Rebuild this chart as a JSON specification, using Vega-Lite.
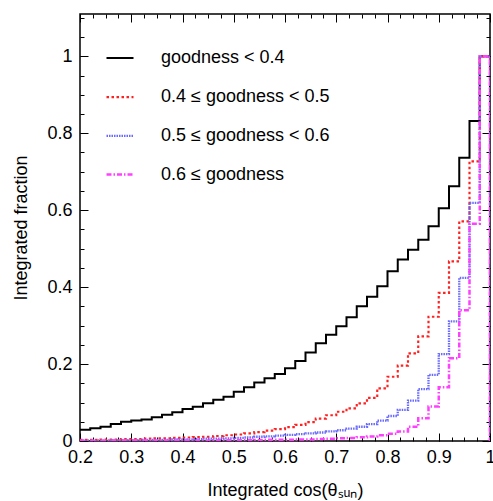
{
  "$schema": "https://vega.github.io/schema/vega-lite/v6.json",
  "width": 410,
  "height": 427,
  "autosize": {"type": "none"},
  "padding": {"left": 80, "top": 14, "right": 3, "bottom": 60},
  "background": "white",
  "config": {
    "font": "Liberation Sans",
    "view": {"stroke": "#000", "strokeWidth": 1.5},
    "axis": {"grid": false, "domain": false, "tickColor": "#000", "tickWidth": 1, "labelFont": "Liberation Sans", "labelFontSize": 18, "labelColor": "#000", "titleFont": "Liberation Sans", "titleFontSize": 18, "titleFontWeight": "normal", "titleColor": "#000"},
    "legend": {"orient": "none", "legendX": 25, "legendY": 29.5, "symbolType": "stroke", "symbolSize": 729, "labelFont": "Liberation Sans", "labelFontSize": 18, "labelColor": "#000", "labelOffset": 26, "rowPadding": 14.7, "padding": 0, "title": null, "labelLimit": 400}
  },
  "data": {"values": [
    {"g":"goodness < 0.4","x":0.2,"f":0.029},{"g":"goodness < 0.4","x":0.22,"f":0.033},{"g":"goodness < 0.4","x":0.24,"f":0.037},{"g":"goodness < 0.4","x":0.26,"f":0.044},{"g":"goodness < 0.4","x":0.28,"f":0.050},{"g":"goodness < 0.4","x":0.3,"f":0.053},{"g":"goodness < 0.4","x":0.32,"f":0.056},{"g":"goodness < 0.4","x":0.34,"f":0.062},{"g":"goodness < 0.4","x":0.36,"f":0.068},{"g":"goodness < 0.4","x":0.38,"f":0.075},{"g":"goodness < 0.4","x":0.4,"f":0.083},{"g":"goodness < 0.4","x":0.42,"f":0.089},{"g":"goodness < 0.4","x":0.44,"f":0.098},{"g":"goodness < 0.4","x":0.46,"f":0.107},{"g":"goodness < 0.4","x":0.48,"f":0.115},{"g":"goodness < 0.4","x":0.5,"f":0.128},{"g":"goodness < 0.4","x":0.52,"f":0.140},{"g":"goodness < 0.4","x":0.54,"f":0.152},{"g":"goodness < 0.4","x":0.56,"f":0.163},{"g":"goodness < 0.4","x":0.58,"f":0.174},{"g":"goodness < 0.4","x":0.6,"f":0.189},{"g":"goodness < 0.4","x":0.62,"f":0.208},{"g":"goodness < 0.4","x":0.64,"f":0.230},{"g":"goodness < 0.4","x":0.66,"f":0.254},{"g":"goodness < 0.4","x":0.68,"f":0.276},{"g":"goodness < 0.4","x":0.7,"f":0.298},{"g":"goodness < 0.4","x":0.72,"f":0.322},{"g":"goodness < 0.4","x":0.74,"f":0.350},{"g":"goodness < 0.4","x":0.76,"f":0.375},{"g":"goodness < 0.4","x":0.78,"f":0.402},{"g":"goodness < 0.4","x":0.8,"f":0.441},{"g":"goodness < 0.4","x":0.82,"f":0.472},{"g":"goodness < 0.4","x":0.84,"f":0.497},{"g":"goodness < 0.4","x":0.86,"f":0.523},{"g":"goodness < 0.4","x":0.88,"f":0.558},{"g":"goodness < 0.4","x":0.9,"f":0.605},{"g":"goodness < 0.4","x":0.92,"f":0.662},{"g":"goodness < 0.4","x":0.94,"f":0.736},{"g":"goodness < 0.4","x":0.96,"f":0.832},{"g":"goodness < 0.4","x":0.98,"f":1.0},{"g":"goodness < 0.4","x":1.0,"f":0},
    {"g":"0.4 ≤ goodness < 0.5","x":0.2,"f":0.003},{"g":"0.4 ≤ goodness < 0.5","x":0.22,"f":0.003},{"g":"0.4 ≤ goodness < 0.5","x":0.24,"f":0.004},{"g":"0.4 ≤ goodness < 0.5","x":0.26,"f":0.004},{"g":"0.4 ≤ goodness < 0.5","x":0.28,"f":0.005},{"g":"0.4 ≤ goodness < 0.5","x":0.3,"f":0.005},{"g":"0.4 ≤ goodness < 0.5","x":0.32,"f":0.006},{"g":"0.4 ≤ goodness < 0.5","x":0.34,"f":0.007},{"g":"0.4 ≤ goodness < 0.5","x":0.36,"f":0.007},{"g":"0.4 ≤ goodness < 0.5","x":0.38,"f":0.008},{"g":"0.4 ≤ goodness < 0.5","x":0.4,"f":0.009},{"g":"0.4 ≤ goodness < 0.5","x":0.42,"f":0.010},{"g":"0.4 ≤ goodness < 0.5","x":0.44,"f":0.011},{"g":"0.4 ≤ goodness < 0.5","x":0.46,"f":0.013},{"g":"0.4 ≤ goodness < 0.5","x":0.48,"f":0.015},{"g":"0.4 ≤ goodness < 0.5","x":0.5,"f":0.017},{"g":"0.4 ≤ goodness < 0.5","x":0.52,"f":0.020},{"g":"0.4 ≤ goodness < 0.5","x":0.54,"f":0.023},{"g":"0.4 ≤ goodness < 0.5","x":0.56,"f":0.027},{"g":"0.4 ≤ goodness < 0.5","x":0.58,"f":0.031},{"g":"0.4 ≤ goodness < 0.5","x":0.6,"f":0.036},{"g":"0.4 ≤ goodness < 0.5","x":0.62,"f":0.042},{"g":"0.4 ≤ goodness < 0.5","x":0.64,"f":0.049},{"g":"0.4 ≤ goodness < 0.5","x":0.66,"f":0.058},{"g":"0.4 ≤ goodness < 0.5","x":0.68,"f":0.067},{"g":"0.4 ≤ goodness < 0.5","x":0.7,"f":0.076},{"g":"0.4 ≤ goodness < 0.5","x":0.72,"f":0.085},{"g":"0.4 ≤ goodness < 0.5","x":0.74,"f":0.098},{"g":"0.4 ≤ goodness < 0.5","x":0.76,"f":0.112},{"g":"0.4 ≤ goodness < 0.5","x":0.78,"f":0.137},{"g":"0.4 ≤ goodness < 0.5","x":0.8,"f":0.167},{"g":"0.4 ≤ goodness < 0.5","x":0.82,"f":0.196},{"g":"0.4 ≤ goodness < 0.5","x":0.84,"f":0.228},{"g":"0.4 ≤ goodness < 0.5","x":0.86,"f":0.272},{"g":"0.4 ≤ goodness < 0.5","x":0.88,"f":0.323},{"g":"0.4 ≤ goodness < 0.5","x":0.9,"f":0.385},{"g":"0.4 ≤ goodness < 0.5","x":0.92,"f":0.467},{"g":"0.4 ≤ goodness < 0.5","x":0.94,"f":0.571},{"g":"0.4 ≤ goodness < 0.5","x":0.96,"f":0.727},{"g":"0.4 ≤ goodness < 0.5","x":0.98,"f":1.0},{"g":"0.4 ≤ goodness < 0.5","x":1.0,"f":0},
    {"g":"0.5 ≤ goodness < 0.6","x":0.2,"f":0.001},{"g":"0.5 ≤ goodness < 0.6","x":0.22,"f":0.001},{"g":"0.5 ≤ goodness < 0.6","x":0.24,"f":0.001},{"g":"0.5 ≤ goodness < 0.6","x":0.26,"f":0.002},{"g":"0.5 ≤ goodness < 0.6","x":0.28,"f":0.002},{"g":"0.5 ≤ goodness < 0.6","x":0.3,"f":0.002},{"g":"0.5 ≤ goodness < 0.6","x":0.32,"f":0.003},{"g":"0.5 ≤ goodness < 0.6","x":0.34,"f":0.003},{"g":"0.5 ≤ goodness < 0.6","x":0.36,"f":0.003},{"g":"0.5 ≤ goodness < 0.6","x":0.38,"f":0.004},{"g":"0.5 ≤ goodness < 0.6","x":0.4,"f":0.004},{"g":"0.5 ≤ goodness < 0.6","x":0.42,"f":0.005},{"g":"0.5 ≤ goodness < 0.6","x":0.44,"f":0.006},{"g":"0.5 ≤ goodness < 0.6","x":0.46,"f":0.006},{"g":"0.5 ≤ goodness < 0.6","x":0.48,"f":0.007},{"g":"0.5 ≤ goodness < 0.6","x":0.5,"f":0.008},{"g":"0.5 ≤ goodness < 0.6","x":0.52,"f":0.009},{"g":"0.5 ≤ goodness < 0.6","x":0.54,"f":0.011},{"g":"0.5 ≤ goodness < 0.6","x":0.56,"f":0.012},{"g":"0.5 ≤ goodness < 0.6","x":0.58,"f":0.014},{"g":"0.5 ≤ goodness < 0.6","x":0.6,"f":0.016},{"g":"0.5 ≤ goodness < 0.6","x":0.62,"f":0.018},{"g":"0.5 ≤ goodness < 0.6","x":0.64,"f":0.020},{"g":"0.5 ≤ goodness < 0.6","x":0.66,"f":0.022},{"g":"0.5 ≤ goodness < 0.6","x":0.68,"f":0.025},{"g":"0.5 ≤ goodness < 0.6","x":0.7,"f":0.028},{"g":"0.5 ≤ goodness < 0.6","x":0.72,"f":0.032},{"g":"0.5 ≤ goodness < 0.6","x":0.74,"f":0.037},{"g":"0.5 ≤ goodness < 0.6","x":0.76,"f":0.044},{"g":"0.5 ≤ goodness < 0.6","x":0.78,"f":0.053},{"g":"0.5 ≤ goodness < 0.6","x":0.8,"f":0.065},{"g":"0.5 ≤ goodness < 0.6","x":0.82,"f":0.081},{"g":"0.5 ≤ goodness < 0.6","x":0.84,"f":0.105},{"g":"0.5 ≤ goodness < 0.6","x":0.86,"f":0.135},{"g":"0.5 ≤ goodness < 0.6","x":0.88,"f":0.172},{"g":"0.5 ≤ goodness < 0.6","x":0.9,"f":0.226},{"g":"0.5 ≤ goodness < 0.6","x":0.92,"f":0.311},{"g":"0.5 ≤ goodness < 0.6","x":0.94,"f":0.424},{"g":"0.5 ≤ goodness < 0.6","x":0.96,"f":0.619},{"g":"0.5 ≤ goodness < 0.6","x":0.98,"f":1.0},{"g":"0.5 ≤ goodness < 0.6","x":1.0,"f":0},
    {"g":"0.6 ≤ goodness","x":0.2,"f":0.0005},{"g":"0.6 ≤ goodness","x":0.22,"f":0.0005},{"g":"0.6 ≤ goodness","x":0.24,"f":0.0005},{"g":"0.6 ≤ goodness","x":0.26,"f":0.001},{"g":"0.6 ≤ goodness","x":0.28,"f":0.001},{"g":"0.6 ≤ goodness","x":0.3,"f":0.001},{"g":"0.6 ≤ goodness","x":0.32,"f":0.001},{"g":"0.6 ≤ goodness","x":0.34,"f":0.001},{"g":"0.6 ≤ goodness","x":0.36,"f":0.001},{"g":"0.6 ≤ goodness","x":0.38,"f":0.001},{"g":"0.6 ≤ goodness","x":0.4,"f":0.0015},{"g":"0.6 ≤ goodness","x":0.42,"f":0.0015},{"g":"0.6 ≤ goodness","x":0.44,"f":0.0015},{"g":"0.6 ≤ goodness","x":0.46,"f":0.002},{"g":"0.6 ≤ goodness","x":0.48,"f":0.002},{"g":"0.6 ≤ goodness","x":0.5,"f":0.002},{"g":"0.6 ≤ goodness","x":0.52,"f":0.002},{"g":"0.6 ≤ goodness","x":0.54,"f":0.0025},{"g":"0.6 ≤ goodness","x":0.56,"f":0.003},{"g":"0.6 ≤ goodness","x":0.58,"f":0.003},{"g":"0.6 ≤ goodness","x":0.6,"f":0.003},{"g":"0.6 ≤ goodness","x":0.62,"f":0.004},{"g":"0.6 ≤ goodness","x":0.64,"f":0.004},{"g":"0.6 ≤ goodness","x":0.66,"f":0.005},{"g":"0.6 ≤ goodness","x":0.68,"f":0.006},{"g":"0.6 ≤ goodness","x":0.7,"f":0.007},{"g":"0.6 ≤ goodness","x":0.72,"f":0.008},{"g":"0.6 ≤ goodness","x":0.74,"f":0.010},{"g":"0.6 ≤ goodness","x":0.76,"f":0.012},{"g":"0.6 ≤ goodness","x":0.78,"f":0.015},{"g":"0.6 ≤ goodness","x":0.8,"f":0.019},{"g":"0.6 ≤ goodness","x":0.82,"f":0.025},{"g":"0.6 ≤ goodness","x":0.84,"f":0.037},{"g":"0.6 ≤ goodness","x":0.86,"f":0.059},{"g":"0.6 ≤ goodness","x":0.88,"f":0.090},{"g":"0.6 ≤ goodness","x":0.9,"f":0.140},{"g":"0.6 ≤ goodness","x":0.92,"f":0.215},{"g":"0.6 ≤ goodness","x":0.94,"f":0.340},{"g":"0.6 ≤ goodness","x":0.96,"f":0.565},{"g":"0.6 ≤ goodness","x":0.98,"f":1.0},{"g":"0.6 ≤ goodness","x":1.0,"f":0}
  ]},
  "layer": [
    {
      "mark": {"type": "line", "interpolate": "step-after", "clip": true},
      "encoding": {
        "x": {"field": "x", "type": "quantitative", "scale": {"domain": [0.2, 1.0], "nice": false, "zero": false},
              "axis": {"orient": "bottom", "values": [0.2,0.3,0.4,0.5,0.6,0.7,0.8,0.9,1.0], "format": "~g", "tickSize": -8, "labelPadding": 15, "labelFlush": false, "labelOverlap": false, "title": "Integrated cos(θₛᵤₙ)", "titlePadding": 15}},
        "y": {"field": "f", "type": "quantitative", "scale": {"domain": [0, 1.11], "nice": false},
              "axis": {"orient": "left", "values": [0,0.2,0.4,0.6,0.8,1.0], "format": "~g", "tickSize": -8, "labelPadding": 16, "labelOverlap": false, "title": "Integrated fraction", "titlePadding": 16}},
        "color": {"field": "g", "type": "nominal", "scale": {"domain": ["goodness < 0.4","0.4 ≤ goodness < 0.5","0.5 ≤ goodness < 0.6","0.6 ≤ goodness"], "range": ["#000000","#ff2020","#6a6aff","#ff40ff"]}, "legend": {"title": null}},
        "strokeDash": {"field": "g", "type": "nominal", "scale": {"domain": ["goodness < 0.4","0.4 ≤ goodness < 0.5","0.5 ≤ goodness < 0.6","0.6 ≤ goodness"], "range": [[1,0],[2.5,2.5],[1.5,1],[5,2,1.5,2]]}, "legend": {"title": null}},
        "strokeWidth": {"field": "g", "type": "nominal", "scale": {"domain": ["goodness < 0.4","0.4 ≤ goodness < 0.5","0.5 ≤ goodness < 0.6","0.6 ≤ goodness"], "range": [2, 2.5, 1.5, 2]}, "legend": {"title": null}}
      }
    },
    {
      "mark": {"type": "point", "opacity": 0},
      "encoding": {
        "x": {"field": "x", "type": "quantitative", "axis": {"orient": "bottom", "values": [0.2,0.225,0.25,0.275,0.3,0.325,0.35,0.375,0.4,0.425,0.45,0.475,0.5,0.525,0.55,0.575,0.6,0.625,0.65,0.675,0.7,0.725,0.75,0.775,0.8,0.825,0.85,0.875,0.9,0.925,0.95,0.975,1.0], "tickSize": -4, "labels": false, "title": null}},
        "y": {"field": "f", "type": "quantitative", "axis": {"orient": "left", "values": [0,0.05,0.1,0.15,0.2,0.25,0.3,0.35,0.4,0.45,0.5,0.55,0.6,0.65,0.7,0.75,0.8,0.85,0.9,0.95,1.0,1.05,1.1], "tickSize": -4, "labels": false, "title": null}}
      }
    },
    {
      "mark": {"type": "point", "opacity": 0},
      "encoding": {
        "x": {"field": "x", "type": "quantitative", "axis": {"orient": "top", "values": [0.2,0.3,0.4,0.5,0.6,0.7,0.8,0.9,1.0], "tickSize": -8, "labels": false, "title": null}},
        "y": {"field": "f", "type": "quantitative", "axis": {"orient": "right", "values": [0,0.2,0.4,0.6,0.8,1.0], "tickSize": -8, "labels": false, "title": null}}
      }
    },
    {
      "mark": {"type": "point", "opacity": 0},
      "encoding": {
        "x": {"field": "x", "type": "quantitative", "axis": {"orient": "top", "values": [0.2,0.225,0.25,0.275,0.3,0.325,0.35,0.375,0.4,0.425,0.45,0.475,0.5,0.525,0.55,0.575,0.6,0.625,0.65,0.675,0.7,0.725,0.75,0.775,0.8,0.825,0.85,0.875,0.9,0.925,0.95,0.975,1.0], "tickSize": -4, "labels": false, "title": null}},
        "y": {"field": "f", "type": "quantitative", "axis": {"orient": "right", "values": [0,0.05,0.1,0.15,0.2,0.25,0.3,0.35,0.4,0.45,0.5,0.55,0.6,0.65,0.7,0.75,0.8,0.85,0.9,0.95,1.0,1.05,1.1], "tickSize": -4, "labels": false, "title": null}}
      }
    }
  ],
  "resolve": {"axis": {"x": "independent", "y": "independent"}}
}
